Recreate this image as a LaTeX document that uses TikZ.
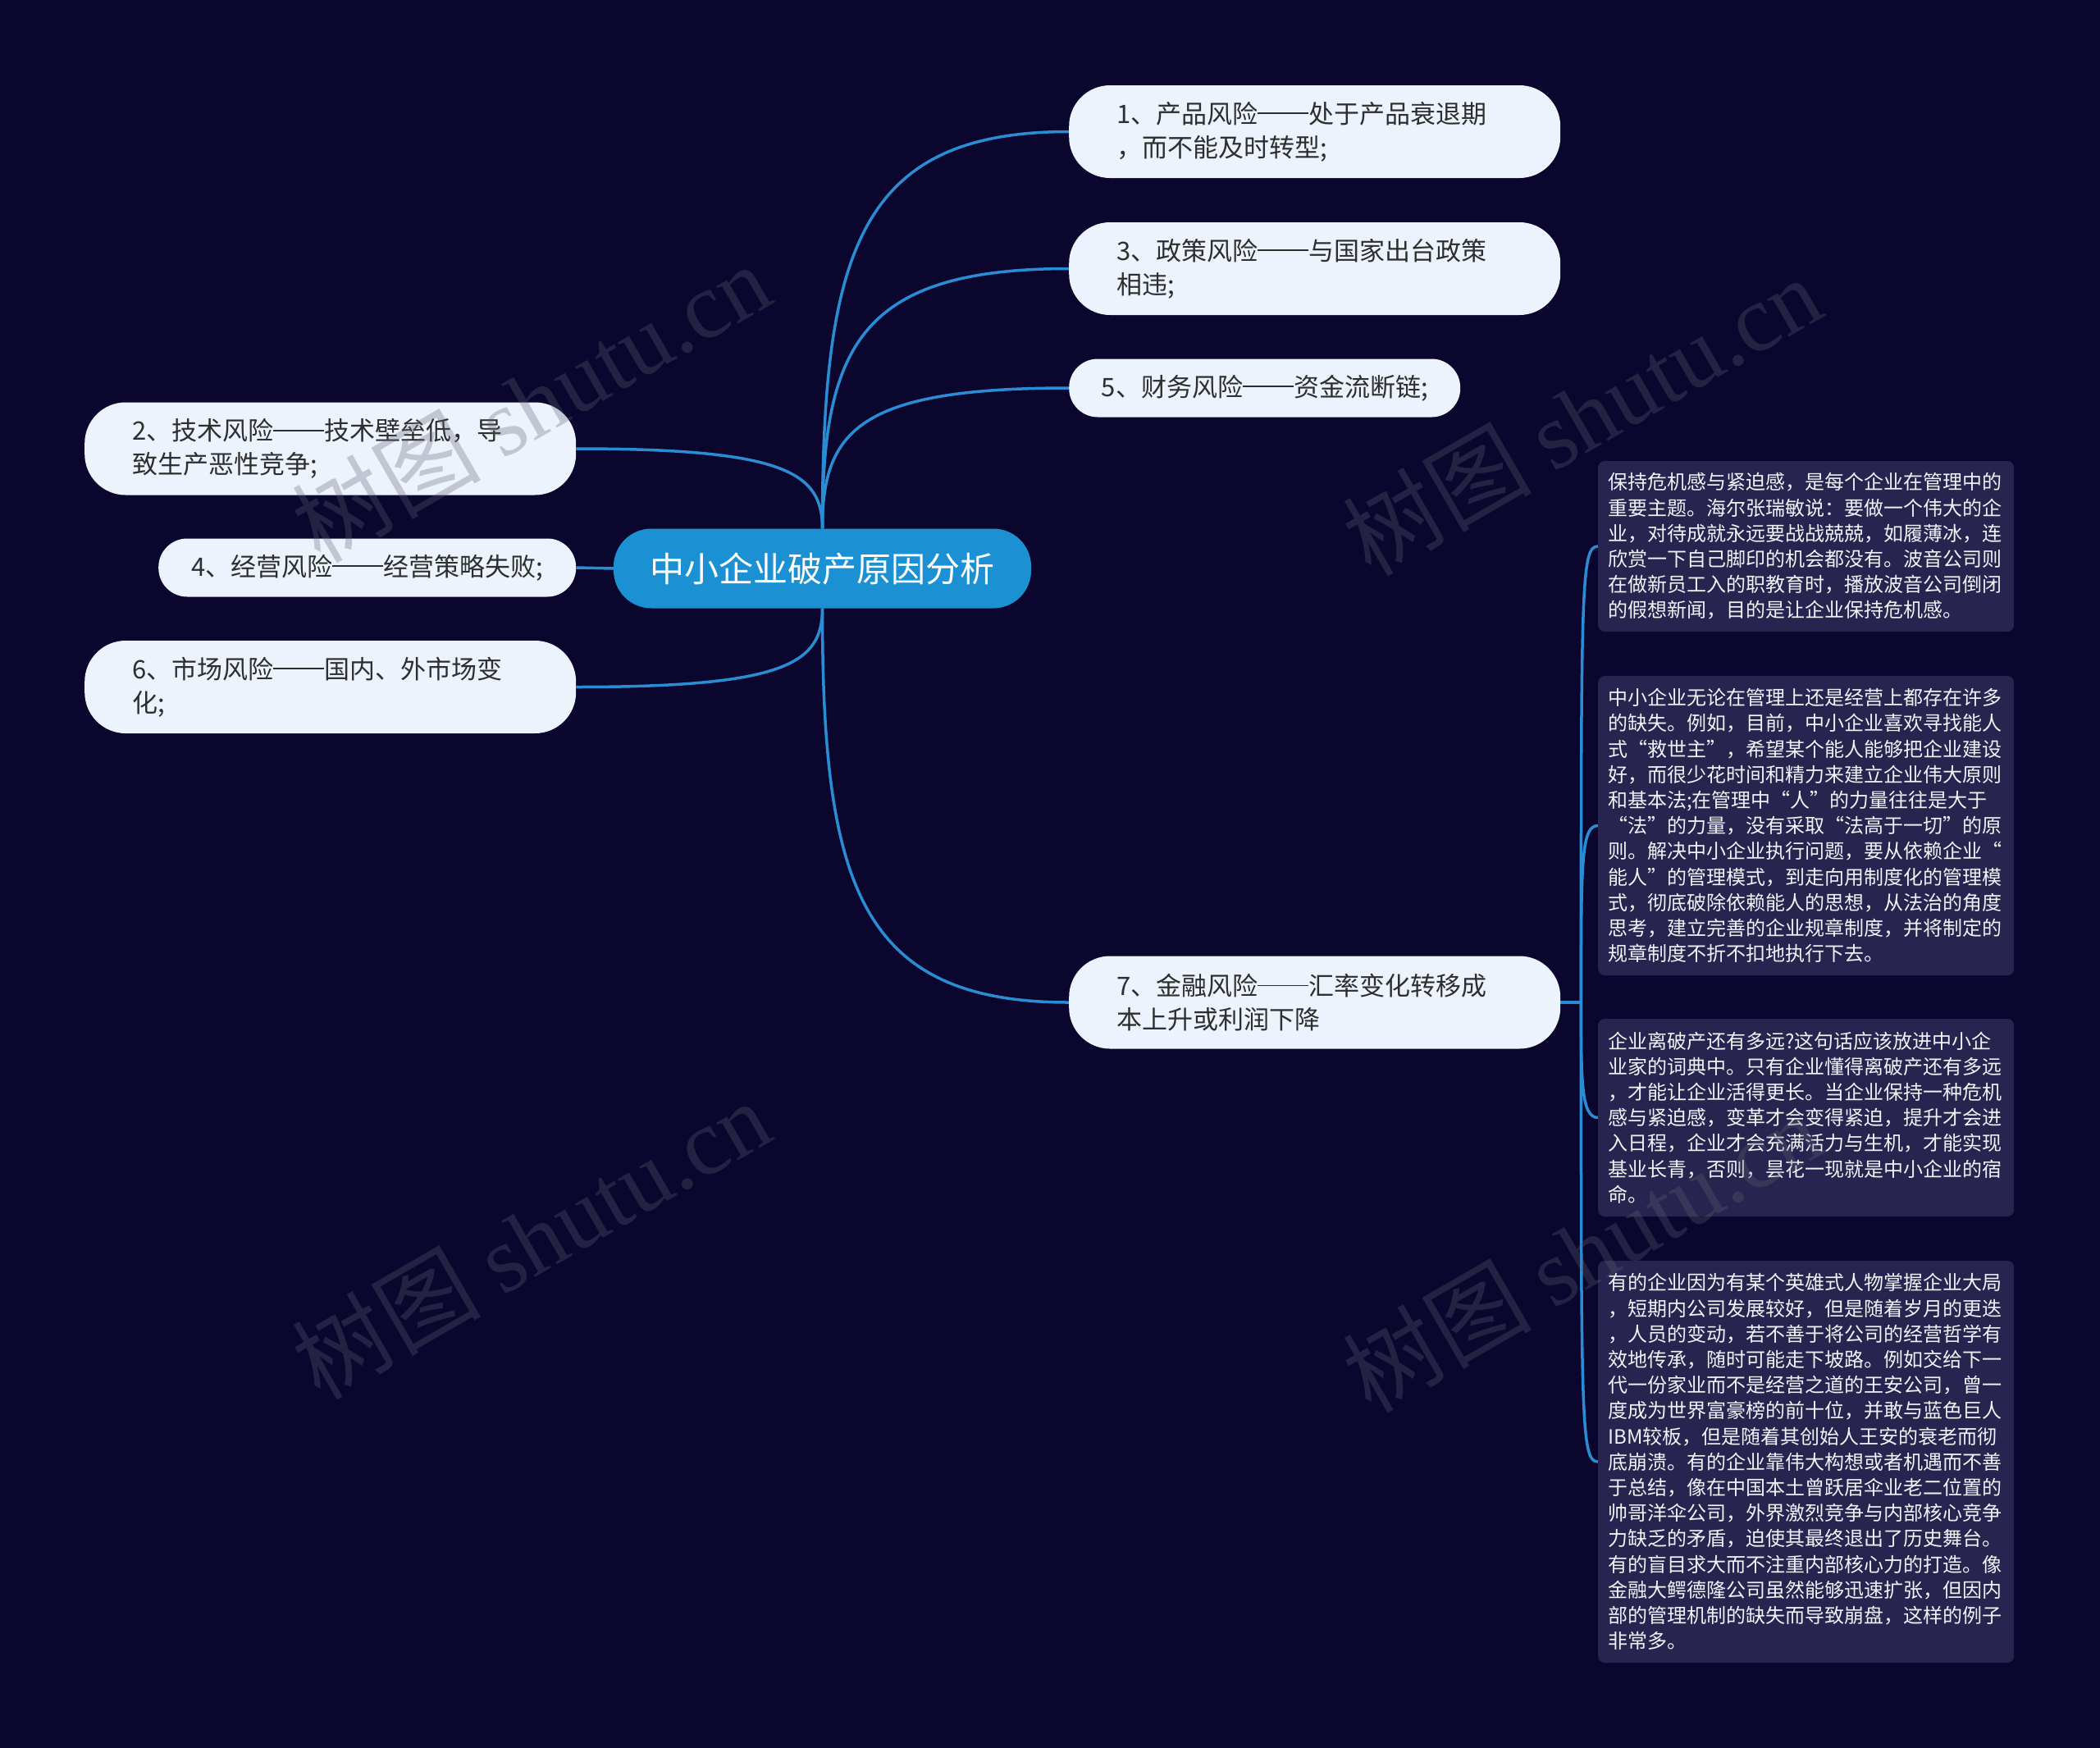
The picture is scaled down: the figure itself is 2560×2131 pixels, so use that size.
\documentclass[tikz,border=0pt]{standalone}
\usepackage{fontspec}
\setmainfont{Noto Sans CJK SC}
\newfontfamily\wmserif{Liberation Serif}
\usetikzlibrary{calc}
\definecolor{bgc}{HTML}{0A062E}
\definecolor{linec}{HTML}{2A8DD4}
\definecolor{rootc}{HTML}{1B91D3}
\definecolor{leafc}{HTML}{EDF3FC}
\definecolor{leaftext}{HTML}{2E2E2E}
\definecolor{notec}{HTML}{272550}
\definecolor{notetext}{HTML}{F2F2F6}
\definecolor{wmc}{HTML}{616172}
\newcommand\longdash{\rule[0.36em]{2em}{0.055em}}
\pgfdeclarelayer{back}
\pgfdeclarelayer{edges}
\pgfsetlayers{back,edges,main}
\tikzset{
  rootbox/.style={fill=rootc, text=white, rounded corners=46, minimum width=509, minimum height=97,
    inner sep=0, font=\fontsize{42}{50}\selectfont},
  leafbase/.style={fill=leafc, text=leaftext, inner ysep=0, anchor=west,
    font=\fontsize{31}{41}\selectfont},
  leaftwo/.style={leafbase, rounded corners=50, minimum height=113, inner xsep=58, text width=483, align=left},
  leafone/.style={leafbase, rounded corners=35, minimum height=71, align=center},
  notebox/.style={fill=notec, text=notetext, rounded corners=8, anchor=west, inner xsep=12, inner ysep=0,
    text width=483, align=left, font=\fontsize{24}{31.2}\selectfont},
  conn/.style={draw=linec, line width=3.5},
  curvy/.style={to path={.. controls ($(\tikztostart)!0.7!(\tikztostart |- \tikztotarget)$) and ($(\tikztotarget)!0.85!(\tikztostart |- \tikztotarget)$) .. (\tikztotarget)}},
  bracket/.style={to path={.. controls ($(\tikztostart |- \tikztotarget)!45pt!(\tikztostart)$) and (\tikztostart |- \tikztotarget) .. (\tikztotarget)}},
  watermark/.style={rotate=30, text=wmc, text opacity=0.3, inner sep=0}
}
\begin{document}
\begin{tikzpicture}[x=1pt,y=-1pt]
\begin{pgfonlayer}{back}
\fill[bgc] (0,0) rectangle (2560,2131);
\end{pgfonlayer}
\useasboundingbox (0,0) rectangle (2560,2131);

% root
\node[rootbox] (c) at (1002.5,693) {中小企业破产原因分析};

% right branches
\node[leaftwo] (n1) at (1303,160.5) {1、产品风险\longdash 处于产品衰退期\\，而不能及时转型;};
\node[leaftwo] (n3) at (1303,327.5) {3、政策风险\longdash 与国家出台政策\\相违;};
\node[leafone, inner xsep=38, text width=401] (n5) at (1303,473) {5、财务风险\longdash 资金流断链;};
\node[leaftwo] (n7) at (1303,1222) {7、金融风险\longdash 汇率变化转移成\\本上升或利润下降};

% left branches
\node[leaftwo] (n2) at (103,547) {2、技术风险\longdash 技术壁垒低，导\\致生产恶性竞争;};
\node[leafone, inner xsep=38, text width=433] (n4) at (193,692) {4、经营风险\longdash 经营策略失败;};
\node[leaftwo] (n6) at (103,837.5) {6、市场风险\longdash 国内、外市场变\\化;};

% notes
\node[notebox, minimum height=208] (b1) at (1948,666) {保持危机感与紧迫感，是每个企业在管理中的\\重要主题。海尔张瑞敏说：要做一个伟大的企\\业，对待成就永远要战战兢兢，如履薄冰，连\\欣赏一下自己脚印的机会都没有。波音公司则\\在做新员工入的职教育时，播放波音公司倒闭\\的假想新闻，目的是让企业保持危机感。};
\node[notebox, minimum height=365] (b2) at (1948,1006.5) {中小企业无论在管理上还是经营上都存在许多\\的缺失。例如，目前，中小企业喜欢寻找能人\\式“救世主”，希望某个能人能够把企业建设\\好，而很少花时间和精力来建立企业伟大原则\\和基本法;在管理中“人”的力量往往是大于\\“法”的力量，没有采取“法高于一切”的原\\则。解决中小企业执行问题，要从依赖企业“\\能人”的管理模式，到走向用制度化的管理模\\式，彻底破除依赖能人的思想，从法治的角度\\思考，建立完善的企业规章制度，并将制定的\\规章制度不折不扣地执行下去。};
\node[notebox, minimum height=241] (b3) at (1948,1362.5) {企业离破产还有多远?这句话应该放进中小企\\业家的词典中。只有企业懂得离破产还有多远\\，才能让企业活得更长。当企业保持一种危机\\感与紧迫感，变革才会变得紧迫，提升才会进\\入日程，企业才会充满活力与生机，才能实现\\基业长青，否则，昙花一现就是中小企业的宿\\命。};
\node[notebox, minimum height=490] (b4) at (1948,1782) {有的企业因为有某个英雄式人物掌握企业大局\\，短期内公司发展较好，但是随着岁月的更迭\\，人员的变动，若不善于将公司的经营哲学有\\效地传承，随时可能走下坡路。例如交给下一\\代一份家业而不是经营之道的王安公司，曾一\\度成为世界富豪榜的前十位，并敢与蓝色巨人\\IBM较板，但是随着其创始人王安的衰老而彻\\底崩溃。有的企业靠伟大构想或者机遇而不善\\于总结，像在中国本土曾跃居伞业老二位置的\\帅哥洋伞公司，外界激烈竞争与内部核心竞争\\力缺乏的矛盾，迫使其最终退出了历史舞台。\\有的盲目求大而不注重内部核心力的打造。像\\金融大鳄德隆公司虽然能够迅速扩张，但因内\\部的管理机制的缺失而导致崩盘，这样的例子\\非常多。};

\coordinate (j) at ($(n7.east)+(25,0)$);

\begin{pgfonlayer}{edges}
\draw[conn] (c.north) to[curvy] (n1.west);
\draw[conn] (c.north) to[curvy] (n3.west);
\draw[conn] (c.north) to[curvy] (n5.west);
\draw[conn] (c.south) to[curvy] (n7.west);
\draw[conn] (c.north) to[curvy] (n2.east);
\draw[conn] (c.west) -- (n4.east);
\draw[conn] (c.south) to[curvy] (n6.east);
\draw[conn] (n7.east) -- (j);
\draw[conn] (j) to[bracket] (b1.west);
\draw[conn] (j) to[bracket] (b2.west);
\draw[conn] (j) to[bracket] (b3.west);
\draw[conn] (j) to[bracket] (b4.west);
\end{pgfonlayer}

% watermarks
\node[watermark] (w1) at (647,490) {\fontsize{115}{115}\selectfont 树图 {\wmserif shutu.cn}};
\node[watermark] (w2) at (1928,506) {\fontsize{115}{115}\selectfont 树图 {\wmserif shutu.cn}};
\node[watermark] (w3) at (647,1510) {\fontsize{115}{115}\selectfont 树图 {\wmserif shutu.cn}};
\node[watermark] (w4) at (1928,1526) {\fontsize{115}{115}\selectfont 树图 {\wmserif shutu.cn}};
\end{tikzpicture}
\end{document}
